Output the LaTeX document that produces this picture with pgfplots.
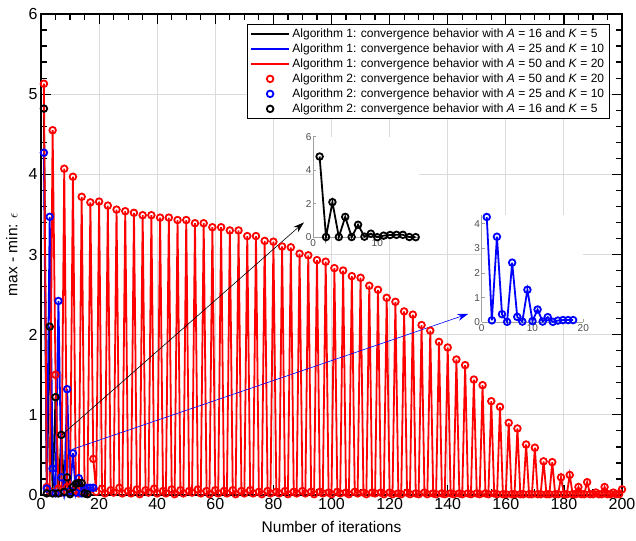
\documentclass[border=0pt]{standalone}
\usepackage{pgfplots}
\pgfplotsset{compat=1.18}
\usepackage{pgfplotstable}
\usepackage{fontspec}
\setmainfont{Liberation Sans}
\usetikzlibrary{arrows.meta}

\pgfplotsset{
  mylinelegend/.style={legend image code/.code={\draw[##1] (0pt,0pt) -- (38pt,0pt);}},
  mymarklegend/.style={legend image code/.code={\draw[##1] plot coordinates {(19pt,0pt)};}},
}

\pgfplotstableread{
it val
1 5.13
2 0.10
3 0.05
4 4.55
5 1.50
6 0.08
7 0.03
8 4.07
9 0.10
10 0.05
11 3.97
12 0.06
13 0.02
14 3.72
15 0.07
16 0.03
17 3.65
18 0.45
19 0.04
20 3.66
21 0.08
22 0.02
23 3.61
24 0.06
25 0.03
26 3.56
27 0.09
28 0.02
29 3.54
30 0.05
31 0.02
32 3.52
33 0.07
34 0.01
35 3.49
36 0.06
37 0.03
38 3.49
39 0.08
40 0.02
41 3.46
42 0.05
43 0.02
44 3.46
45 0.07
46 0.01
47 3.43
48 0.06
49 0.02
50 3.43
51 0.05
52 0.03
53 3.39
54 0.07
55 0.02
56 3.39
57 0.05
58 0.01
59 3.34
60 0.06
61 0.02
62 3.34
63 0.05
64 0.02
65 3.30
66 0.06
67 0.01
68 3.30
69 0.05
70 0.02
71 3.23
72 0.06
73 0.02
74 3.23
75 0.04
76 0.01
77 3.17
78 0.05
79 0.02
80 3.16
81 0.04
82 0.02
83 3.10
84 0.05
85 0.01
86 3.09
87 0.04
88 0.02
89 3.01
90 0.05
91 0.02
92 2.99
93 0.04
94 0.01
95 2.93
96 0.04
97 0.02
98 2.91
99 0.03
100 0.01
101 2.83
102 0.04
103 0.02
104 2.80
105 0.03
106 0.01
107 2.73
108 0.04
109 0.02
110 2.71
111 0.03
112 0.01
113 2.61
114 0.03
115 0.02
116 2.56
117 0.03
118 0.01
119 2.46
120 0.03
121 0.01
122 2.41
123 0.02
124 0.01
125 2.29
126 0.03
127 0.01
128 2.25
129 0.02
130 0.01
131 2.12
132 0.03
133 0.01
134 2.05
135 0.02
136 0.01
137 1.91
138 0.02
139 0.01
140 1.84
141 0.02
142 0.01
143 1.69
144 0.02
145 0.01
146 1.62
147 0.02
148 0.01
149 1.44
150 0.02
151 0.01
152 1.37
153 0.02
154 0.01
155 1.17
156 0.02
157 0.01
158 1.10
159 0.01
160 0.01
161 0.90
162 0.01
163 0.01
164 0.83
165 0.01
166 0.01
167 0.63
168 0.01
169 0.01
170 0.59
171 0.01
172 0.01
173 0.42
174 0.01
175 0.01
176 0.41
177 0.01
178 0.01
179 0.22
180 0.01
181 0.01
182 0.25
183 0.01
184 0.01
185 0.10
186 0.01
187 0.01
188 0.16
189 0.01
190 0.01
191 0.03
192 0.01
193 0.01
194 0.10
195 0.01
196 0.01
197 0.03
198 0.01
199 0.01
200 0.07
}\redtab

\pgfplotstableread{
it val
1 4.27
2 0.08
3 3.47
4 0.33
5 0.02
6 2.42
7 0.22
8 0.03
9 1.32
10 0.05
11 0.52
12 0.03
13 0.21
14 0.02
15 0.07
16 0.09
17 0.09
18 0.09
}\bluetab

\pgfplotstableread{
it val
1 4.82
2 0.02
3 2.10
4 0.02
5 1.22
6 0.02
7 0.75
8 0.04
9 0.22
10 0.01
11 0.10
12 0.14
13 0.15
14 0.15
15 0.02
16 0.01
}\blacktab

\begin{document}
\begin{tikzpicture}
\begin{axis}[
  scale only axis, width=581pt, height=481pt,
  xmin=0, xmax=200, ymin=0, ymax=6,
  xtick={0,20,...,200}, ytick={0,1,...,6},
  minor x tick num=3, minor y tick num=4,
  tick align=inside,
  major tick length=10pt, minor tick length=6pt,
  axis line style={line width=1.4pt},
  tick style={black, line width=1.2pt},
  grid=major, major grid style={gray!28, line width=1pt},
  /pgf/number format/assume math mode=true,
  tick label style={font=\fontsize{16}{19}\selectfont},
  label style={font=\fontsize{15.5}{18}\selectfont},
  xlabel={Number of iterations}, ylabel={max - min: $\epsilon$},
  xlabel style={at={(axis description cs:0.5,-0.0665)}, anchor=center},
  ylabel style={at={(axis description cs:-0.05,0.5)}, anchor=center},
  clip=false,
  legend style={at={(0.9793,0.9792)}, anchor=north east,
    font=\fontsize{12}{14}\selectfont, draw=black, thick,
    nodes={inner sep=2.4pt}, row sep=0pt},
  legend cell align=left,
]
\addplot[black, line width=1.8pt, mylinelegend] table[x=it,y=val]{\blacktab};
\addlegendentry{Algorithm 1: convergence behavior with \textit{A} = 16 and \textit{K} = 5}
\addplot[blue, line width=1.8pt, mylinelegend] table[x=it,y=val]{\bluetab};
\addlegendentry{Algorithm 1: convergence behavior with \textit{A} = 25 and \textit{K} = 10}
\addplot[red, line width=1.8pt, mylinelegend] table[x=it,y=val]{\redtab};
\addlegendentry{Algorithm 1: convergence behavior with \textit{A} = 50 and \textit{K} = 20}
\addplot[red, only marks, mark=o, mark size=3.3pt, line width=1.8pt, mymarklegend] table[x=it,y=val]{\redtab};
\addlegendentry{Algorithm 2: convergence behavior with \textit{A} = 50 and \textit{K} = 20}
\addplot[blue, only marks, mark=o, mark size=3.3pt, line width=1.8pt, mymarklegend] table[x=it,y=val]{\bluetab};
\addlegendentry{Algorithm 2: convergence behavior with \textit{A} = 25 and \textit{K} = 10}
\addplot[black, only marks, mark=o, mark size=3.3pt, line width=1.8pt, mymarklegend] table[x=it,y=val]{\blacktab};
\addlegendentry{Algorithm 2: convergence behavior with \textit{A} = 16 and \textit{K} = 5}

\draw[black, line width=0.6pt, -{Stealth[length=11pt,width=7pt]}] (axis cs:7.2,0.75) -- (axis cs:90.5,3.40);
\draw[blue, line width=0.6pt, -{Stealth[length=11pt,width=7pt]}] (axis cs:10.8,0.57) -- (axis cs:147.1,2.26);

\coordinate (SW) at (rel axis cs:0,0);
\coordinate (NE) at (rel axis cs:1,1);
\coordinate (insA) at (axis cs:93.7,3.214);
\coordinate (insB) at (axis cs:151.7,2.154);
\end{axis}

\begin{axis}[
  at={(insA)}, anchor=south west,
  scale only axis, width=105.7pt, height=100.6pt,
  xmin=0, xmax=16.5, ymin=0, ymax=6,
  xtick={0,10}, ytick={0,2,4,6},
  axis lines=left, axis line style={-, gray!75, line width=0.7pt},
  tick style={gray!75, line width=0.7pt},
  tick align=inside, major tick length=3pt,
  axis background/.style={fill=white},
  clip=false,
  /pgf/number format/assume math mode=true,
  tick label style={font=\fontsize{10}{12}\selectfont, text=black!70},
  xticklabel style={inner sep=1.5pt}, yticklabel style={inner sep=1.5pt},
]
\addplot[black, line width=1.8pt, mark=o, mark size=3.3pt] table[x=it,y=val]{\blacktab};
\end{axis}

\begin{axis}[
  at={(insB)}, anchor=south west,
  scale only axis, width=101.6pt, height=107.3pt,
  xmin=0, xmax=20, ymin=0, ymax=4.35,
  xtick={0,10,20}, ytick={0,1,2,3,4},
  axis lines=left, axis line style={-, gray!75, line width=0.7pt},
  tick style={gray!75, line width=0.7pt},
  tick align=inside, major tick length=3pt,
  axis background/.style={fill=white},
  clip=false,
  /pgf/number format/assume math mode=true,
  tick label style={font=\fontsize{10}{12}\selectfont, text=black!70},
  xticklabel style={inner sep=1.5pt}, yticklabel style={inner sep=1.5pt},
]
\addplot[blue, line width=1.8pt, mark=o, mark size=3.3pt] table[x=it,y=val]{\bluetab};
\end{axis}

\pgfresetboundingbox
\path[use as bounding box] ([xshift=-41pt,yshift=-45pt]SW) rectangle ([xshift=14pt,yshift=14pt]NE);
\end{tikzpicture}
\end{document}
